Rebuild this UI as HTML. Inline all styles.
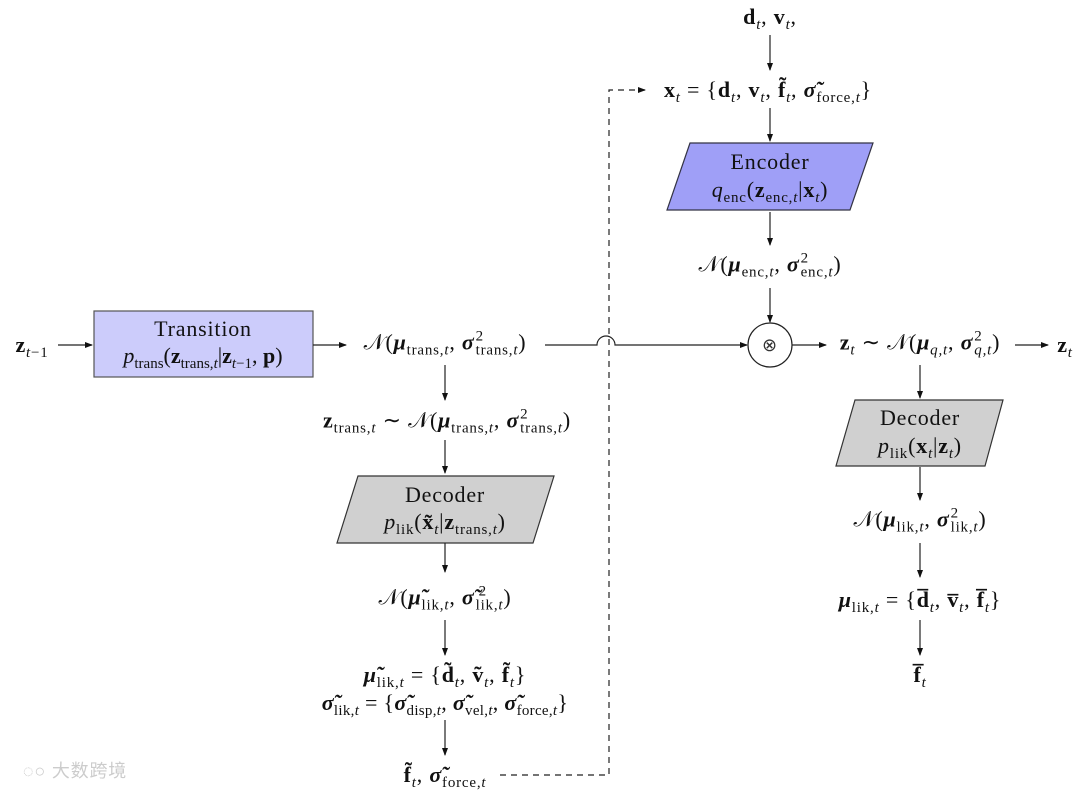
<!DOCTYPE html>
<html><head><meta charset="utf-8"><style>
body{margin:0;width:1080px;height:791px;background:#fff;position:relative;overflow:hidden;font-family:"Liberation Serif",serif;color:#111}
.t{position:absolute;transform:translate(-50%,-50%);white-space:nowrap;font-size:22px;line-height:1;letter-spacing:0.8px}
i{font-style:italic}
sub{font-size:15px;vertical-align:-5px;line-height:0}
.ss{display:inline-block;position:relative;font-size:15px;line-height:1;vertical-align:-5px;margin-left:1px}
.ss .u{position:absolute;left:0;top:-14px}
svg{position:absolute;left:0;top:0}
</style></head><body>
<svg width="1080" height="791">
<defs><marker id="a" markerWidth="8" markerHeight="6" refX="7" refY="3" orient="auto" markerUnits="userSpaceOnUse"><path d="M0,0L8,3L0,6z" fill="#111"/></marker></defs>
<g stroke="#222" stroke-width="1.2" fill="none">
<rect x="94" y="311" width="219" height="66" fill="#ccccfb" stroke="#555"/>
<polygon points="690,143 873,143 850,210 667,210" fill="#9f9ff7" stroke="#334"/>
<polygon points="358,476 554,476 533,543 337,543" fill="#d0d0d0" stroke="#333"/>
<polygon points="855,400 1003,400 985,466 836,466" fill="#d0d0d0" stroke="#333"/>
<circle cx="770" cy="345" r="22" fill="#fff"/>
<line x1="58" y1="345" x2="92" y2="345" marker-end="url(#a)"/>
<line x1="313" y1="345" x2="346" y2="345" marker-end="url(#a)"/>
<path d="M545,345H597A9,9 0 0 1 615,345H747" marker-end="url(#a)"/>
<line x1="445" y1="365" x2="445" y2="400" marker-end="url(#a)"/>
<line x1="445" y1="440" x2="445" y2="473" marker-end="url(#a)"/>
<line x1="445" y1="543" x2="445" y2="572" marker-end="url(#a)"/>
<line x1="445" y1="620" x2="445" y2="655" marker-end="url(#a)"/>
<line x1="445" y1="720" x2="445" y2="755" marker-end="url(#a)"/>
<line x1="770" y1="35" x2="770" y2="70" marker-end="url(#a)"/>
<line x1="770" y1="108" x2="770" y2="141" marker-end="url(#a)"/>
<line x1="770" y1="212" x2="770" y2="245" marker-end="url(#a)"/>
<line x1="770" y1="288" x2="770" y2="322" marker-end="url(#a)"/>
<line x1="792" y1="345" x2="826" y2="345" marker-end="url(#a)"/>
<line x1="1015" y1="345" x2="1048" y2="345" marker-end="url(#a)"/>
<line x1="920" y1="365" x2="920" y2="398" marker-end="url(#a)"/>
<line x1="920" y1="467" x2="920" y2="500" marker-end="url(#a)"/>
<line x1="920" y1="543" x2="920" y2="577" marker-end="url(#a)"/>
<line x1="920" y1="620" x2="920" y2="655" marker-end="url(#a)"/>
<path d="M500,775H609V90H645" stroke-dasharray="6,5" marker-end="url(#a)"/>
</g>
</svg>
<div class="t" style="left:32px;top:345px"><b>z</b><sub><i>t</i>−1</sub></div>
<div class="t" style="left:203px;top:329px">Transition</div>
<div class="t" style="left:203px;top:356px;letter-spacing:0"><i>p</i><sub>trans</sub>(<b>z</b><sub>trans,<i>t</i></sub>|<b>z</b><sub><i>t</i>−1</sub>, <b>p</b>)</div>
<div class="t" style="left:445px;top:345px">𝒩(<b><i>μ</i></b><sub>trans,<i>t</i></sub>, <b><i>σ</i></b><span class="ss"><span class="u">2</span>trans,<i>t</i></span>)</div>
<div class="t" style="left:447px;top:423px">
<b>z</b><sub>trans,<i>t</i></sub> ∼ 𝒩(<b><i>μ</i></b><sub>trans,<i>t</i></sub>, <b><i>σ</i></b><span class="ss"><span class="u">2</span>trans,<i>t</i></span>)</div>
<div class="t" style="left:445px;top:495px">Decoder</div>
<div class="t" style="left:445px;top:522px"><i>p</i><sub>lik</sub>(<b>x̃</b><sub><i>t</i></sub>|<b>z</b><sub>trans,<i>t</i></sub>)</div>
<div class="t" style="left:445px;top:600px">𝒩(<b><i>μ̃</i></b><sub>lik,<i>t</i></sub>, <b><i>σ̃</i></b><span class="ss"><span class="u" style="left:3px">2</span>lik,<i>t</i></span>)</div>
<div class="t" style="left:445px;top:675px"><b><i>μ̃</i></b><sub>lik,<i>t</i></sub> = {<b>d̃</b><sub><i>t</i></sub>, <b>ṽ</b><sub><i>t</i></sub>, <b>f̃</b><sub><i>t</i></sub>}</div>
<div class="t" style="left:445px;top:703px;letter-spacing:0.3px"><b><i>σ̃</i></b><sub>lik,<i>t</i></sub> = {<b><i>σ̃</i></b><sub>disp,<i>t</i></sub>, <b><i>σ̃</i></b><sub>vel,<i>t</i></sub>, <b><i>σ̃</i></b><sub>force,<i>t</i></sub>}</div>
<div class="t" style="left:445px;top:775px"><b>f̃</b><sub><i>t</i></sub>, <b><i>σ̃</i></b><sub>force,<i>t</i></sub></div>
<div class="t" style="left:770px;top:17px"><b>d</b><sub><i>t</i></sub>, <b>v</b><sub><i>t</i></sub>,</div>
<div class="t" style="left:768px;top:90px"><b>x</b><sub><i>t</i></sub> = {<b>d</b><sub><i>t</i></sub>, <b>v</b><sub><i>t</i></sub>, <b>f̃</b><sub><i>t</i></sub>, <b><i>σ̃</i></b><sub>force,<i>t</i></sub>}</div>
<div class="t" style="left:770px;top:162px">Encoder</div>
<div class="t" style="left:770px;top:190px"><i>q</i><sub>enc</sub>(<b>z</b><sub>enc,<i>t</i></sub>|<b>x</b><sub><i>t</i></sub>)</div>
<div class="t" style="left:770px;top:267px">𝒩(<b><i>μ</i></b><sub>enc,<i>t</i></sub>, <b><i>σ</i></b><span class="ss"><span class="u">2</span>enc,<i>t</i></span>)</div>
<div class="t" style="left:770px;top:345px;font-size:18px;color:#333">⊗</div>
<div class="t" style="left:920px;top:345px"><b>z</b><sub><i>t</i></sub> ∼ 𝒩(<b><i>μ</i></b><sub><i>q,t</i></sub>, <b><i>σ</i></b><span class="ss"><span class="u">2</span><i>q,t</i></span>)</div>
<div class="t" style="left:1065px;top:345px"><b>z</b><sub><i>t</i></sub></div>
<div class="t" style="left:920px;top:418px">Decoder</div>
<div class="t" style="left:920px;top:446px"><i>p</i><sub>lik</sub>(<b>x</b><sub><i>t</i></sub>|<b>z</b><sub><i>t</i></sub>)</div>
<div class="t" style="left:920px;top:522px">𝒩(<b><i>μ</i></b><sub>lik,<i>t</i></sub>, <b><i>σ</i></b><span class="ss"><span class="u">2</span>lik,<i>t</i></span>)</div>
<div class="t" style="left:920px;top:600px"><b><i>μ</i></b><sub>lik,<i>t</i></sub> = {<b>d̅</b><sub><i>t</i></sub>, <b>v̅</b><sub><i>t</i></sub>, <b>f̅</b><sub><i>t</i></sub>}</div>
<div class="t" style="left:920px;top:675px"><b>f̅</b><sub><i>t</i></sub></div>
<div class="t" style="left:75px;top:771px;font-family:'Liberation Sans','Noto Sans CJK SC',sans-serif;font-size:18px;color:#ccc">◌○ 大数跨境</div>
</body></html>
